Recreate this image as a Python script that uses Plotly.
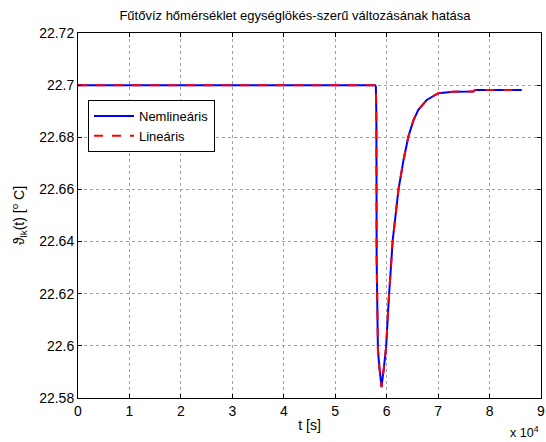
import plotly.graph_objects as go

# Time samples [s] and temperature values [°C]
t_values = [0, 20000, 40000, 57700, 57900, 58000, 58050, 58150, 58300, 58600, 59000,
            59450, 59900, 60400, 61180, 62300, 63300, 64210, 65200, 66150, 67790,
            70040, 72960, 76800, 77200, 82000, 86260]
nonlin_values = [22.7000, 22.7000, 22.7000, 22.7000, 22.6995, 22.6870, 22.6337, 22.6054,
                 22.5985, 22.5915, 22.5842, 22.5915, 22.5996, 22.6176, 22.6406, 22.6600,
                 22.6715, 22.6802, 22.6865, 22.6905, 22.6943, 22.6969, 22.6975, 22.6976,
                 22.6981, 22.6981, 22.6981]
lin_values = list(nonlin_values)

x_tick_vals = [0, 10000, 20000, 30000, 40000, 50000, 60000, 70000, 80000, 90000]
x_tick_text = ["0", "1", "2", "3", "4", "5", "6", "7", "8", "9"]
y_tick_vals = [22.58, 22.60, 22.62, 22.64, 22.66, 22.68, 22.70, 22.72]
y_tick_text = ["22.58", "22.6", "22.62", "22.64", "22.66", "22.68", "22.7", "22.72"]

FONT = "Liberation Sans, Arial, sans-serif"

W, H = 546, 442

fig = go.Figure()
fig.add_trace(go.Scatter(x=t_values, y=nonlin_values, mode="lines", name="Nemlineáris",
                         line=dict(color="#0000FF", width=2)))
fig.add_trace(go.Scatter(x=t_values, y=lin_values, mode="lines", name="Lineáris",
                         line=dict(color="#FF0000", width=2, dash="dash")))

axis_common = dict(showline=True, linecolor="black", linewidth=1, mirror="allticks",
                   ticks="inside", ticklen=4, tickcolor="black", automargin=False,
                   ticklabeloverflow="allow",
                   showgrid=True, gridcolor="#a0a0a0", griddash="dot", gridwidth=1,
                   zeroline=False, tickfont=dict(family=FONT, size=14, color="black"))

fig.update_layout(
    width=W, height=H,
    margin=dict(l=78, r=5, t=33, b=44),
    paper_bgcolor="white", plot_bgcolor="white",
    font=dict(family=FONT, size=14, color="black"),
    title=dict(text="Fűtővíz hőmérséklet egységlökés-szerű változásának hatása",
               x=0.4687, xref="paper", xanchor="center",
               y=(H - 15.5) / H, yref="container", yanchor="middle",
               font=dict(family=FONT, size=13.0, color="black")),
    xaxis=dict(range=[0, 90000], tickvals=x_tick_vals, ticktext=x_tick_text,
               title=dict(text="t [s]", standoff=2, font=dict(family=FONT, size=14)),
               **axis_common),
    yaxis=dict(range=[22.58, 22.72], tickvals=y_tick_vals, ticktext=y_tick_text,
               title=dict(text="ϑ<sub>lk</sub>(t) [<sup>o</sup> C]", standoff=11,
                          font=dict(family=FONT, size=14)),
               **axis_common),
    legend=dict(x=0.0216, y=0.8164, xanchor="left", yanchor="top",
                bgcolor="white", bordercolor="black", borderwidth=1,
                font=dict(family=FONT, size=13, color="black"),
                tracegroupgap=0, itemwidth=40),
    showlegend=True,
    annotations=[dict(text="x 10<sup>4</sup>", xref="paper", yref="paper",
                      x=1.0, y=-0.093, xanchor="right", yanchor="middle",
                      showarrow=False, font=dict(family=FONT, size=12.5, color="black"))],
)

fig.write_html("out.html",
               config={"displayModeBar": False},
               post_script="document.body.style.margin='0';document.body.style.overflow='hidden';")
